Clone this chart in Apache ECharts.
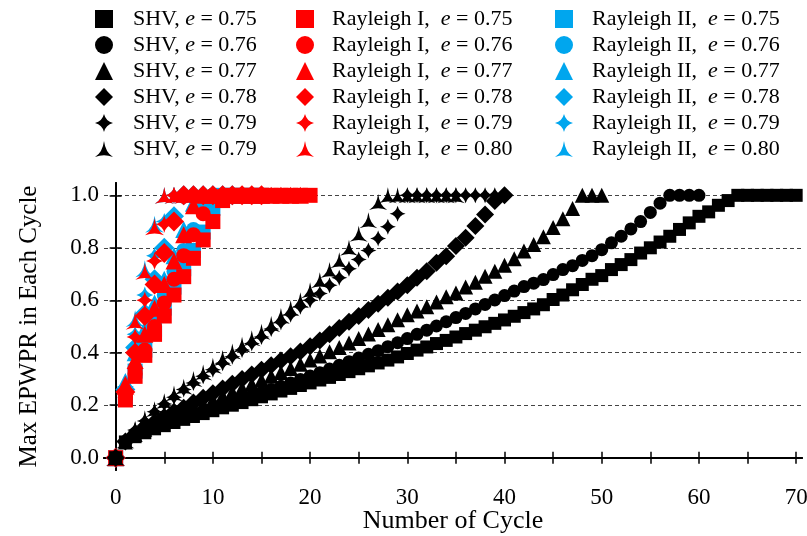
<!DOCTYPE html>
<html>
<head>
<meta charset="utf-8">
<script src="https://cdn.jsdelivr.net/npm/echarts@6/dist/echarts.min.js"></script>
<style>
  html, body { margin: 0; padding: 0; background: #fff; }
  #chart { width: 807px; height: 536px; }
</style>
</head>
<body>
<div id="chart"></div>
<script>
// values per cycle (index = number of cycle)
var shv075 = [0, .06, .08, .095, .11, .122, .134, .146, .157, .168, .179, .19, .2, .21, .221, .232, .243, .254, .264, .275,
  .285, .296, .306, .317, .328, .339, .35, .361, .372, .384, .397, .41, .422, .435, .447, .46, .473, .486, .499, .512,
  .525, .539, .553, .567, .583, .603, .62, .64, .66, .68, .694, .717, .736, .755, .78, .8, .822, .844, .87, .895,
  .92, .937, .962, .98, 1, 1, 1, 1, 1, 1, 1];
var shv076 = [0, .06, .085, .1, .115, .128, .141, .153, .165, .177, .189, .2, .212, .224, .236, .248, .26, .272, .285, .298,
  .311, .324, .338, .352, .366, .38, .394, .408, .423, .438, .454, .47, .486, .502, .518, .534, .55, .567, .584, .601,
  .618, .635, .652, .665, .679, .698, .717, .732, .752, .77, .793, .819, .844, .872, .9, .935, .97, 1, 1, 1, 1];
var shv077 = [0, .06, .088, .108, .126, .143, .159, .174, .19, .205, .22, .235, .25, .265, .28, .295, .31, .325, .34, .356,
  .372, .388, .404, .42, .437, .454, .471, .489, .507, .526, .545, .559, .575, .593, .613, .628, .651, .669, .692, .711,
  .733, .758, .788, .813, .842, .877, .911, .95, 1, 1, 1];
var shv078 = [0, .062, .09, .115, .135, .155, .175, .19, .21, .228, .246, .264, .282, .3, .317, .335, .352, .37, .387, .405,
  .425, .447, .47, .494, .518, .54, .563, .587, .61, .633, .657, .686, .711, .743, .768, .807, .838, .883, .927, .978, 1];
var shv079 = [0, .063, .105, .14, .175, .205, .23, .26, .285, .31, .335, .36, .385, .41, .435, .46, .49, .515, .545, .575,
  .6, .626, .657, .686, .72, .755, .79, .835, .88, .93, 1, 1, 1, 1, 1, 1, 1, 1, 1, 1];
var shv080 = [0, .065, .11, .15, .185, .215, .245, .27, .3, .325, .35, .38, .405, .43, .455, .48, .51, .54, .57, .6,
  .638, .676, .715, .753, .8, .854, .905, .975, 1, 1, 1, 1, 1, 1, 1, 1];

var ray1_075 = [0, .22, .31, .39, .47, .54, .62, .69, .76, .83, .9, .98, 1, 1, 1, 1, 1, 1, 1, 1, 1];
var ray1_076 = [0, .23, .32, .41, .5, .59, .68, .77, .85, .93, 1, 1, 1, 1, 1, 1, 1, 1];
var ray1_077 = [0, .28, .37, .47, .57, .66, .75, .85, .96, 1, 1, 1, 1, 1, 1, 1, 1, 1, 1, 1];
var ray1_078 = [0, .25, .4, .54, .66, .78, .9, 1, 1, 1, 1, 1, 1, 1, 1, 1];
var ray1_079 = [0, .26, .46, .6, .75, .89, 1, 1, 1, 1, 1, 1, 1, 1, 1];
var ray1_080 = [0, .27, .52, .71, .88, 1, 1, 1, 1, 1, 1, 1, 1, 1];

var ray2_075 = [0, .23, .33, .41, .49, .57, .65, .72, .79, .86, .95, 1, 1, 1, 1, 1];
var ray2_076 = [0, .24, .34, .44, .53, .62, .71, .79, .87, .96, 1, 1, 1, 1, 1, 1];
var ray2_077 = [0, .29, .4, .49, .59, .68, .77, .87, .97, 1, 1, 1, 1, 1, 1, 1];
var ray2_078 = [0, .26, .42, .55, .68, .8, .92, 1, 1, 1, 1, 1, 1];
var ray2_079 = [0, .27, .47, .62, .77, .9, 1, 1, 1, 1, 1, 1, 1];
var ray2_080 = [0, .28, .53, .72, .89, 1, 1, 1, 1, 1, 1, 1, 1];

var eLabelsSHV = ['0.75', '0.76', '0.77', '0.78', '0.79', '0.79'];
var eLabelsRay = ['0.75', '0.76', '0.77', '0.78', '0.79', '0.80'];
var xLabels = [0, 10, 20, 30, 40, 50, 60, 70];
var xTicks = [0, 5, 10, 15, 20, 25, 30, 35, 40, 45, 50, 55, 60, 65, 70];
var yLabels = [0, 0.2, 0.4, 0.6, 0.8, 1.0];

var STAR4 = 'path://M0,-10 Q2,-2 10,0 Q2,2 0,10 Q-2,2 -10,0 Q-2,-2 0,-10 Z';
var STAR3 = 'path://M0,-10 Q1.5,1.5 9,6 Q0,2.5 -9,6 Q-1.5,1.5 0,-10 Z';
var symbols = ['rect', 'circle', 'triangle', 'diamond', STAR4, STAR3];

var FONT = 'Liberation Serif';

var groups = [
  { key: 'r2', title: 'Rayleigh II,  ', color: '#00A6EE', es: eLabelsRay, z: 2,
    data: [ray2_075, ray2_076, ray2_077, ray2_078, ray2_079, ray2_080], sizes: [15, 15, 17, 20, 17, 19] },
  { key: 'r1', title: 'Rayleigh I,  ', color: '#FF0000', es: eLabelsRay, z: 3,
    data: [ray1_075, ray1_076, ray1_077, ray1_078, ray1_079, ray1_080], sizes: [15, 15, 17, 20, 17, 19] },
  { key: 'shv', title: 'SHV, ', color: '#000000', es: eLabelsSHV, z: 4,
    data: [shv075, shv076, shv077, shv078, shv079, shv080], sizes: [13, 13, 15, 18, 16, 18] }
];

var series = [];
var legendNames = {};
var labelText = {};
groups.forEach(function (g) {
  legendNames[g.key] = [];
  g.data.forEach(function (arr, k) {
    var name = g.key + '_' + k;
    legendNames[g.key].push(name);
    labelText[name] = '{p|' + g.title + '}{i|e}{t| = ' + g.es[k] + '}';
    series.push({
      name: name,
      type: 'scatter',
      symbol: symbols[k],
      symbolKeepAspect: true,
      symbolSize: g.sizes[k],
      z: g.z,
      itemStyle: { color: g.color, opacity: 1 },
      emphasis: { disabled: true },
      data: arr.map(function (v, i) { return [i, v]; })
    });
  });
});

function makeLegend(key, left, pad) {
  return {
    orient: 'vertical',
    left: left,
    top: 3,
    itemGap: 4,
    itemWidth: 18,
    itemHeight: 18,
    selectedMode: false,
    data: legendNames[key],
    formatter: function (name) { return labelText[name]; },
    textStyle: {
      fontFamily: FONT, fontSize: 22, color: '#000', lineHeight: 22,
      rich: {
        p: { fontFamily: FONT, fontSize: 22, lineHeight: 22, color: '#000', padding: [0, 0, 0, pad] },
        i: { fontFamily: FONT, fontSize: 22, lineHeight: 22, color: '#000', fontStyle: 'italic' },
        t: { fontFamily: FONT, fontSize: 22, lineHeight: 22, color: '#000' }
      }
    }
  };
}

var axisLineStyle = { show: true, lineStyle: { color: '#000', width: 2 } };
var tickStyle = { inside: true, length: 6, lineStyle: { color: '#000', width: 1.5 } };

var option = {
  animation: false,
  backgroundColor: '#fff',
  legend: [makeLegend('shv', 90, 15), makeLegend('r1', 291, 13), makeLegend('r2', 550, 14)],
  grid: { left: 104, right: 5, top: 183, bottom: 66, containLabel: false, outerBoundsMode: 'none' },
  xAxis: [{
    type: 'value', min: -1.2, max: 70.6, position: 'bottom',
    name: 'Number of Cycle', nameLocation: 'middle', nameGap: 38, nameMoveOverlap: false,
    nameTextStyle: { fontFamily: FONT, fontSize: 26, color: '#000' },
    axisLine: axisLineStyle,
    axisTick: Object.assign({ customValues: xTicks }, tickStyle),
    axisLabel: { customValues: xLabels, fontFamily: FONT, fontSize: 23, color: '#000', margin: 16 },
    splitLine: { show: false }
  }, {
    type: 'value', min: -1.2, max: 70.6, position: 'top',
    axisLine: axisLineStyle,
    axisTick: Object.assign({ customValues: xTicks }, tickStyle),
    axisLabel: { show: false },
    splitLine: { show: false }
  }],
  yAxis: [{
    type: 'value', min: -0.047, max: 1.047, position: 'left',
    name: 'Max EPWPR in Each Cycle', nameLocation: 'middle', nameGap: 62, nameMoveOverlap: false,
    nameTextStyle: { fontFamily: FONT, fontSize: 25, color: '#000' },
    axisLine: axisLineStyle,
    axisTick: Object.assign({ customValues: yLabels }, tickStyle),
    axisLabel: {
      customValues: yLabels, fontFamily: FONT, fontSize: 23, color: '#000', margin: 5,
      formatter: function (v) { return v.toFixed(1); }
    },
    splitLine: { show: true, lineStyle: { color: '#444', width: 1, type: [4, 3] } }
  }, {
    type: 'value', min: -0.047, max: 1.047, position: 'right',
    axisLine: axisLineStyle,
    axisTick: Object.assign({ customValues: yLabels }, tickStyle),
    axisLabel: { show: false },
    splitLine: { show: false }
  }],
  series: series
};

var myChart = echarts.init(document.getElementById('chart'));
myChart.setOption(option);
</script>
</body>
</html>
